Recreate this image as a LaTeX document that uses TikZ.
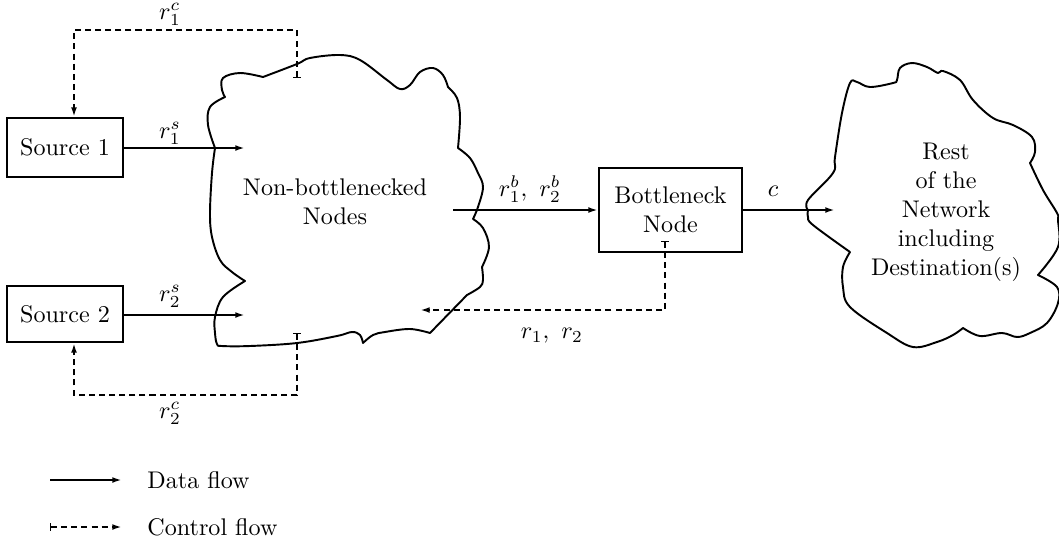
\documentclass[tikz,border=0pt]{standalone}
\usetikzlibrary{arrows.meta,calc}
\begin{document}
\begin{tikzpicture}[x=0.415pt,y=-0.415pt,
  box/.style={draw,line width=0.8pt,minimum width=116*0.415pt,inner sep=0pt},
  data/.style={line width=0.8pt,-{Latex[length=4pt,width=2.4pt]}},
  ctrl/.style={line width=0.8pt,dash pattern=on 2.5pt off 1.7pt,{Bar[width=3pt,line width=0.6pt]}-{Latex[length=4pt,width=2.4pt]}},
  cloud/.style={line width=0.8pt,line join=round},
  lbl/.style={inner sep=0.5pt}]
\useasboundingbox (0,0) rectangle (1059,545);
% boxes
\node[box,minimum height=59*0.415pt] (s1) at (65,147.5) {Source 1};
\node[box,minimum height=56*0.415pt] (s2) at (65,314) {Source 2};
\node[box,minimum width=143*0.415pt,minimum height=84*0.415pt,align=center] (bn) at (670.5,210) {Bottleneck\\Node};
% clouds
\draw[cloud] plot[smooth,tension=0.6] coordinates {(215,148) (208,125) (210,107) (225,97)}
  -- plot[smooth,tension=0.6] coordinates {(225,97) (222,90) (223,78) (240,73) (263,77)}
  -- plot[smooth,tension=0.6] coordinates {(263,77) (297,64) (310,58) (340,55) (360,60) (387,80) (400,89) (410,85) (420,72) (433,68) (443,75) (448,87)}
  -- plot[smooth,tension=0.6] coordinates {(448,87) (457,98) (460,117) (458,148)}
  -- plot[smooth,tension=0.6] coordinates {(458,148) (470,158) (478,173) (483,187) (478,207) (473,219)}
  -- plot[smooth,tension=0.6] coordinates {(473,219) (483,228) (489,247) (482,267)}
  -- plot[smooth,tension=0.6] coordinates {(482,267) (483,280) (480,287) (467,295)}
  -- (430,333)
  -- plot[smooth,tension=0.6] coordinates {(430,333) (410,329) (385,332) (373,335) (363,343)}
  -- plot[smooth,tension=0.6] coordinates {(363,343) (360,335) (352,332) (337,336) (297,343) (250,346) (222,346) (217,344) (215,333) (215,317) (223,297) (245,281)}
  -- plot[smooth,tension=0.6] coordinates {(245,281) (232,272) (220,260) (212,237) (210,213) (212,173) (215,148)} -- cycle;
\draw[cloud] plot[smooth,tension=0.6] coordinates {(808,210) (808,200) (833,173) (835,157) (842,113) (850,83) (857,82) (870,87) (893,83) (897,80) (900,68) (912,63) (927,67) (938,73) (943,71) (960,80) (973,100) (993,118) (1013,125) (1032,137) (1035,152) (1030,163)}
  -- plot[smooth,tension=0.6] coordinates {(1030,163) (1043,190) (1057,213) (1058,220) (1058,247) (1038,275)}
  -- plot[smooth,tension=0.6] coordinates {(1038,275) (1057,287) (1058,303) (1047,323) (1030,333) (1017,337) (1002,333) (980,336) (963,328)}
  -- plot[smooth,tension=0.6] coordinates {(963,328) (953,335) (937,342) (913,347) (887,333) (850,307) (843,287) (843,267) (850,252)}
  -- plot[smooth,tension=0.6] coordinates {(850,252) (813,225) (808,217) (808,210)} -- cycle;
\node[align=center] (nb) at (335,202) {Non-bottlenecked\\Nodes};
\node[align=center] (rest) at (946,212) {Rest\\of the\\Network\\including\\Destination(s)};
% coordinates
\coordinate (e1) at (245,148);
\coordinate (e2) at (245,315);
\coordinate (eb) at (453,210);
\coordinate (ec) at (835,210);
\coordinate (c1s) at (297,78);
\coordinate (c1b) at (74,30);
\coordinate (c2s) at (297,333);
\coordinate (c2b) at (74,395);
\coordinate (fs) at (665,241);
\coordinate (fb) at (420,310);
% data arrows
\draw[data] (s1.east |- e1) -- (e1);
\draw[data] (s2.east |- e2) -- (e2);
\draw[data] (eb) -- (bn.west |- eb);
\draw[data] (bn.east |- ec) -- (ec);
% control arrows
\draw[ctrl] (c1s) |- (c1b) -- (c1b |- s1.north);
\draw[ctrl] (c2s) |- (c2b) -- (c2b |- s2.south);
\draw[ctrl] (fs) |- (fb);
% labels
\node[lbl] (l1s) at (170,133) {$r_1^s$};
\node[lbl] (l2s) at (170,296) {$r_2^s$};
\node[lbl] (l1c) at (170,14) {$r_1^c$};
\node[lbl] (l2c) at (170,413) {$r_2^c$};
\node[lbl] (lb) at (530,189) {$r_1^b,~r_2^b$};
\node[lbl] (lc) at (773,191) {$c$};
\node[lbl] (lr) at (552,336) {$r_1,~r_2$};
% legend
\coordinate (d1) at (50,480);
\coordinate (d2) at (122,480);
\coordinate (k1) at (50,527);
\coordinate (k2) at (122,527);
\draw[data] (d1) -- (d2);
\draw[ctrl] (k1) -- (k2);
\node[anchor=west,inner sep=0pt] (ld) at (147,480) {Data flow};
\node[anchor=west,inner sep=0pt] (lk) at (147,527) {Control flow};
\end{tikzpicture}
\end{document}
